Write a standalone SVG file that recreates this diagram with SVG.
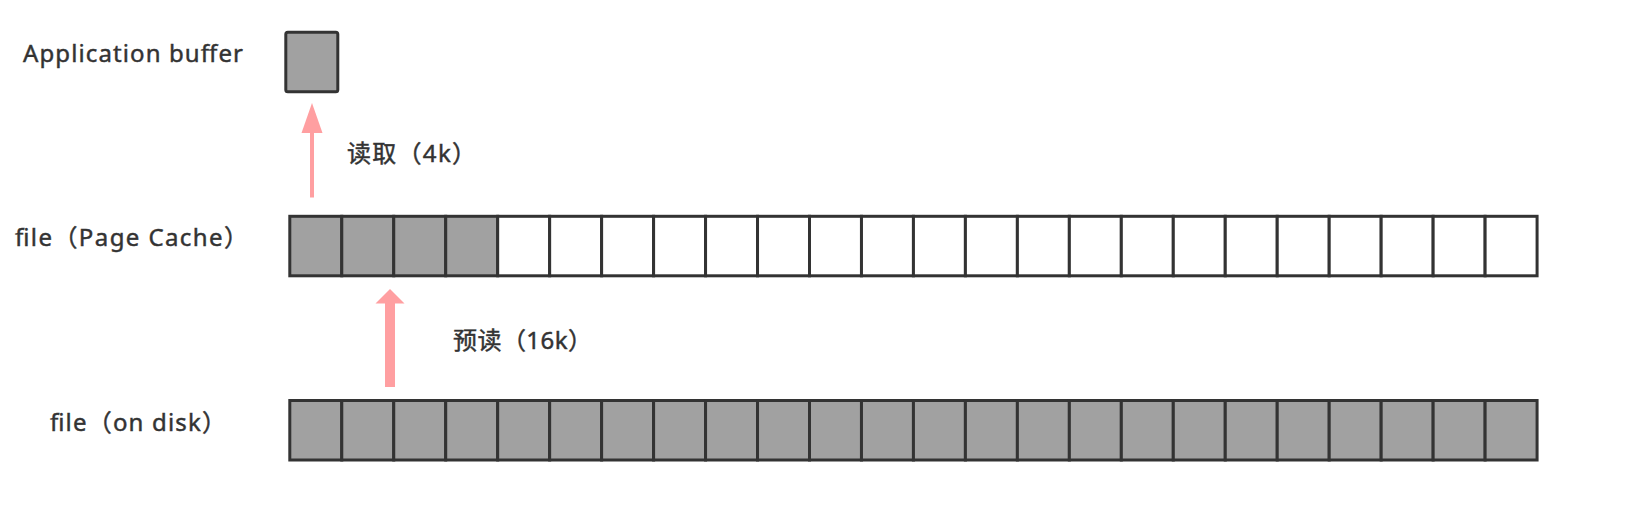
<svg xmlns="http://www.w3.org/2000/svg" width="1638" height="530" viewBox="0 0 1638 530">
  <defs>
    <style>
      .lbl { font-family: "Noto Sans", "Noto Sans CJK SC", sans-serif; font-size: 24px; fill: #333333; stroke: #333333; stroke-width: 0.45px; }
      .full { fill: #a1a1a1; stroke: #333333; stroke-width: 3; }
      .empty { fill: #ffffff; stroke: #333333; stroke-width: 3; }
      .arrow { fill: #ff9fa1; stroke: none; }
    </style>
  </defs>
  <rect width="1638" height="530" fill="#ffffff"/>

  <g id="app-buffer">
    <text class="lbl" x="23" y="62" textLength="220" lengthAdjust="spacing">Application buffer</text>
    <rect class="full" x="285.8" y="32.2" width="52" height="59.5" rx="2"/>
  </g>

  <g id="page-cache">
    <text class="lbl" x="15" y="246" textLength="233" lengthAdjust="spacing">file（Page Cache）</text>
    <g id="page-cache-cells">
      <rect class="full" x="289.8" y="216.3" width="51.97" height="59.5"/>
      <rect class="full" x="341.77" y="216.3" width="51.97" height="59.5"/>
      <rect class="full" x="393.74" y="216.3" width="51.97" height="59.5"/>
      <rect class="full" x="445.71" y="216.3" width="51.97" height="59.5"/>
      <rect class="empty" x="497.68" y="216.3" width="51.97" height="59.5"/>
      <rect class="empty" x="549.65" y="216.3" width="51.97" height="59.5"/>
      <rect class="empty" x="601.62" y="216.3" width="51.97" height="59.5"/>
      <rect class="empty" x="653.59" y="216.3" width="51.97" height="59.5"/>
      <rect class="empty" x="705.56" y="216.3" width="51.97" height="59.5"/>
      <rect class="empty" x="757.53" y="216.3" width="51.97" height="59.5"/>
      <rect class="empty" x="809.5" y="216.3" width="51.97" height="59.5"/>
      <rect class="empty" x="861.47" y="216.3" width="51.97" height="59.5"/>
      <rect class="empty" x="913.44" y="216.3" width="51.97" height="59.5"/>
      <rect class="empty" x="965.41" y="216.3" width="51.97" height="59.5"/>
      <rect class="empty" x="1017.38" y="216.3" width="51.97" height="59.5"/>
      <rect class="empty" x="1069.35" y="216.3" width="51.97" height="59.5"/>
      <rect class="empty" x="1121.32" y="216.3" width="51.97" height="59.5"/>
      <rect class="empty" x="1173.29" y="216.3" width="51.97" height="59.5"/>
      <rect class="empty" x="1225.26" y="216.3" width="51.97" height="59.5"/>
      <rect class="empty" x="1277.23" y="216.3" width="51.97" height="59.5"/>
      <rect class="empty" x="1329.2" y="216.3" width="51.97" height="59.5"/>
      <rect class="empty" x="1381.17" y="216.3" width="51.97" height="59.5"/>
      <rect class="empty" x="1433.14" y="216.3" width="51.97" height="59.5"/>
      <rect class="empty" x="1485.11" y="216.3" width="51.97" height="59.5"/>
    </g>
  </g>

  <g id="disk">
    <text class="lbl" x="50" y="431" textLength="176" lengthAdjust="spacing">file（on disk）</text>
    <g id="disk-cells">
      <rect class="full" x="289.8" y="400.5" width="51.97" height="59.5"/>
      <rect class="full" x="341.77" y="400.5" width="51.97" height="59.5"/>
      <rect class="full" x="393.74" y="400.5" width="51.97" height="59.5"/>
      <rect class="full" x="445.71" y="400.5" width="51.97" height="59.5"/>
      <rect class="full" x="497.68" y="400.5" width="51.97" height="59.5"/>
      <rect class="full" x="549.65" y="400.5" width="51.97" height="59.5"/>
      <rect class="full" x="601.62" y="400.5" width="51.97" height="59.5"/>
      <rect class="full" x="653.59" y="400.5" width="51.97" height="59.5"/>
      <rect class="full" x="705.56" y="400.5" width="51.97" height="59.5"/>
      <rect class="full" x="757.53" y="400.5" width="51.97" height="59.5"/>
      <rect class="full" x="809.5" y="400.5" width="51.97" height="59.5"/>
      <rect class="full" x="861.47" y="400.5" width="51.97" height="59.5"/>
      <rect class="full" x="913.44" y="400.5" width="51.97" height="59.5"/>
      <rect class="full" x="965.41" y="400.5" width="51.97" height="59.5"/>
      <rect class="full" x="1017.38" y="400.5" width="51.97" height="59.5"/>
      <rect class="full" x="1069.35" y="400.5" width="51.97" height="59.5"/>
      <rect class="full" x="1121.32" y="400.5" width="51.97" height="59.5"/>
      <rect class="full" x="1173.29" y="400.5" width="51.97" height="59.5"/>
      <rect class="full" x="1225.26" y="400.5" width="51.97" height="59.5"/>
      <rect class="full" x="1277.23" y="400.5" width="51.97" height="59.5"/>
      <rect class="full" x="1329.2" y="400.5" width="51.97" height="59.5"/>
      <rect class="full" x="1381.17" y="400.5" width="51.97" height="59.5"/>
      <rect class="full" x="1433.14" y="400.5" width="51.97" height="59.5"/>
      <rect class="full" x="1485.11" y="400.5" width="51.97" height="59.5"/>
    </g>
  </g>

  <g id="connectors">
    <g id="read-arrow">
      <rect class="arrow" x="310" y="131" width="4" height="66.5"/>
      <polygon class="arrow" points="312,103 322.5,133 301.5,133"/>
      <text class="lbl" x="347" y="162" textLength="129" lengthAdjust="spacing">读取（4k）</text>
    </g>
    <g id="readahead-arrow">
      <rect class="arrow" x="385" y="301" width="10" height="86"/>
      <polygon class="arrow" points="390,289 404.5,303.5 375.5,303.5"/>
      <text class="lbl" x="453" y="349" textLength="139" lengthAdjust="spacing">预读（16k）</text>
    </g>
  </g>
</svg>
